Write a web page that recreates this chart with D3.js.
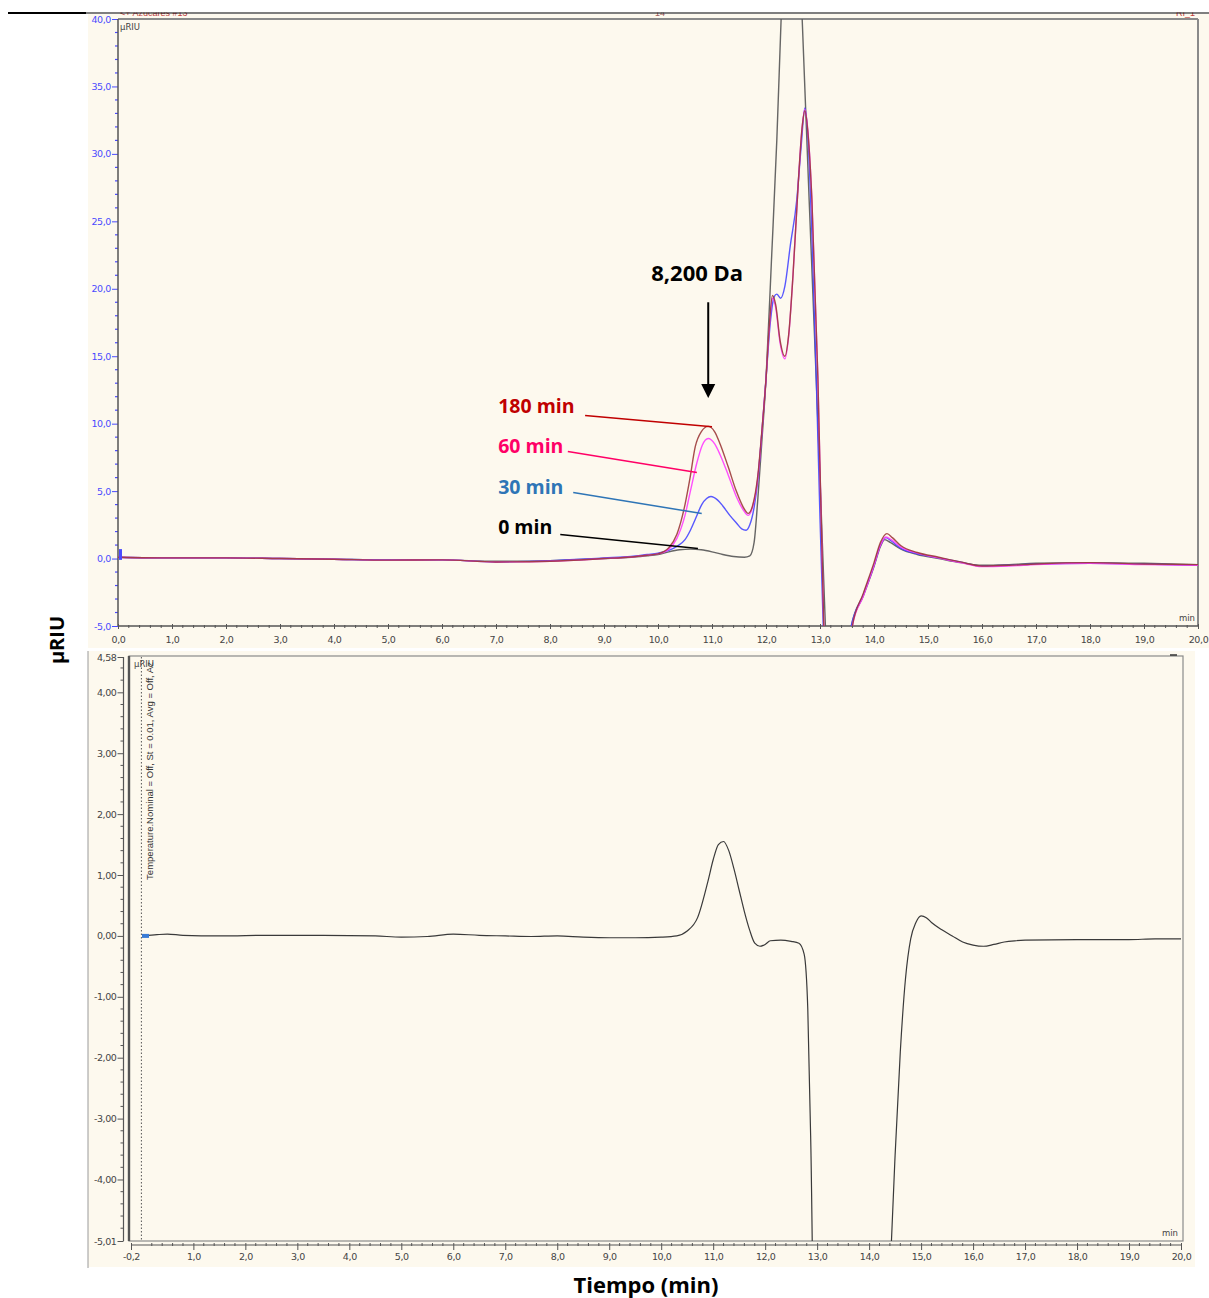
<!DOCTYPE html>
<html>
<head>
<meta charset="utf-8">
<script src="https://cdn.jsdelivr.net/npm/d3@7"></script>
<style>
  body { margin: 0; background: #ffffff; }
  svg { display: block; }
</style>
</head>
<body>
<svg id="chart" width="1209" height="1298"></svg>
<script>
// ---- Upper chromatogram: RI signal (µRIU) vs. retention time (min) ----
const topXTicks = d3.range(0, 20.001, 1);
const topYTicks = [-5, 0, 5, 10, 15, 20, 25, 30, 35, 40];

const trace0min = [
  [0, 0.1], [1, 0.05], [2, 0.05], [3, 0.0], [4, -0.05], [5, -0.1], [6, -0.1], [7, -0.2], [8, -0.15],
  [9, 0.0], [9.5, 0.1], [9.8, 0.2], [10.0, 0.3], [10.2, 0.5], [10.4, 0.65], [10.6, 0.7], [10.8, 0.65],
  [11.0, 0.5], [11.2, 0.3], [11.4, 0.15], [11.6, 0.1], [11.7, 0.2], [11.78, 1.2], [11.85, 4.5],
  [11.92, 8.5], [12.0, 13.3], [12.1, 22], [12.2, 31], [12.28, 40], [12.36, 48], [12.44, 54],
  [12.5, 55], [12.56, 52], [12.62, 45], [12.67, 40], [12.8, 26.5], [12.93, 13.3], [13.0, 6],
  [13.1, -5], [13.2, -14], [13.45, -12], [13.58, -5], [13.8, -2.8], [14.0, -0.6], [14.12, 0.9],
  [14.2, 1.4], [14.3, 1.2], [14.5, 0.7], [14.8, 0.3], [15.2, 0.0], [15.6, -0.3], [16.0, -0.5],
  [16.5, -0.45], [17, -0.35], [18, -0.3], [19, -0.35], [20, -0.45]
];
const trace30min = [
  [0, 0.1], [1, 0.05], [2, 0.05], [3, 0.0], [4, -0.05], [5, -0.1], [6, -0.1], [7, -0.25], [8, -0.15],
  [9, 0.05], [9.5, 0.15], [9.8, 0.3], [10.0, 0.4], [10.2, 0.6], [10.35, 0.9], [10.5, 1.4], [10.6, 2.1],
  [10.7, 3.0], [10.81, 4.0], [10.9, 4.45], [10.98, 4.6], [11.1, 4.35], [11.2, 3.9], [11.33, 3.2],
  [11.46, 2.6], [11.55, 2.2], [11.63, 2.1], [11.7, 2.5], [11.78, 3.8], [11.85, 5.9], [11.92, 9.2],
  [12.0, 13.3], [12.08, 17.5], [12.15, 19.4], [12.2, 19.6], [12.27, 19.3], [12.35, 20.2], [12.45, 23.2],
  [12.57, 26.6], [12.65, 30.5], [12.72, 33.4], [12.78, 31], [12.85, 24], [12.93, 13.5], [13.0, 3],
  [13.06, -5], [13.15, -14], [13.45, -12], [13.58, -5], [13.8, -2.7], [14.0, -0.5], [14.12, 1.0],
  [14.22, 1.55], [14.32, 1.3], [14.5, 0.75], [14.8, 0.35], [15.2, 0.05], [15.6, -0.25], [16.0, -0.55],
  [16.5, -0.5], [17, -0.4], [18, -0.35], [19, -0.4], [20, -0.5]
];
const trace60min = [
  [0, 0.1], [1, 0.05], [2, 0.05], [3, 0.0], [4, -0.05], [5, -0.12], [6, -0.1], [7, -0.25], [8, -0.2],
  [9, 0.0], [9.5, 0.12], [9.8, 0.25], [10.0, 0.35], [10.2, 0.7], [10.35, 1.5], [10.5, 3.2], [10.6, 5.0],
  [10.72, 7.1], [10.82, 8.4], [10.93, 8.9], [11.05, 8.5], [11.15, 7.7], [11.3, 6.2], [11.45, 4.6],
  [11.58, 3.6], [11.67, 3.2], [11.75, 3.8], [11.85, 6.0], [11.92, 9.2], [12.0, 13.3], [12.06, 17],
  [12.12, 19.3], [12.18, 18.6], [12.26, 16], [12.35, 14.8], [12.42, 16.5], [12.5, 21], [12.6, 28],
  [12.67, 32], [12.72, 33.3], [12.78, 31.5], [12.85, 26.6], [12.96, 13.5], [13.07, -5], [13.15, -14],
  [13.45, -12], [13.6, -5], [13.8, -2.8], [14.0, -0.5], [14.12, 1.0], [14.22, 1.6], [14.32, 1.4],
  [14.5, 0.85], [14.8, 0.4], [15.2, 0.05], [15.6, -0.3], [16.0, -0.6], [16.5, -0.55], [17, -0.45],
  [18, -0.35], [19, -0.45], [20, -0.5]
];
const trace180min = [
  [0, 0.1], [1, 0.05], [2, 0.05], [3, 0.0], [4, -0.05], [5, -0.12], [6, -0.1], [7, -0.25], [8, -0.2],
  [9, 0.0], [9.5, 0.12], [9.8, 0.25], [10.0, 0.35], [10.2, 0.8], [10.35, 1.8], [10.5, 4.0], [10.59, 5.9],
  [10.69, 8.3], [10.8, 9.4], [10.93, 9.8], [11.05, 9.4], [11.15, 8.5], [11.3, 6.8], [11.45, 5.0],
  [11.58, 3.8], [11.67, 3.35], [11.75, 3.9], [11.85, 6.2], [11.92, 9.3], [12.0, 13.3], [12.06, 17.2],
  [12.12, 19.5], [12.18, 18.8], [12.26, 16.2], [12.35, 15.0], [12.42, 16.6], [12.5, 21], [12.6, 28],
  [12.67, 32], [12.72, 33.2], [12.78, 31.4], [12.85, 26.6], [12.96, 13.5], [13.07, -5], [13.15, -14],
  [13.45, -12], [13.6, -5], [13.8, -2.6], [14.0, -0.3], [14.12, 1.2], [14.24, 1.85], [14.34, 1.55],
  [14.5, 0.95], [14.8, 0.45], [15.2, 0.1], [15.6, -0.25], [16.0, -0.55], [16.5, -0.5], [17, -0.4],
  [18, -0.3], [19, -0.4], [20, -0.45]
];

const seriesNames = ["0 min", "30 min", "60 min", "180 min"];
const seriesData = [trace0min, trace30min, trace60min, trace180min];
const seriesLine = ["#555555", "#4646ff", "#ff3cff", "#9c3a3a"];

// callout labels (time, signal) for text baseline, leader start and leader end
const calloutNames = ["180 min", "60 min", "30 min", "0 min"];
const calloutColors = ["#c00000", "#ff0066", "#2e75b6", "#000000"];
const calloutText = [[7.04, 10.8], [7.04, 7.8], [7.04, 4.8], [7.04, 1.85]];
const calloutFrom = [[8.65, 10.6], [8.33, 7.93], [8.43, 4.89], [8.19, 1.78]];
const calloutTo = [[11.0, 9.78], [10.72, 6.38], [10.81, 3.34], [10.74, 0.74]];
const markerLabel = "8,200 Da";
const markerTime = 10.93;
const markerSpan = [19.0, 11.9];

// ---- Lower chromatogram: difference trace ----
const botXTicks = [-0.2].concat(d3.range(1, 20.001, 1));
const botYTicks = [-5.01, -4, -3, -2, -1, 0, 1, 2, 3, 4, 4.58];
const traceLower = [
  [0.05, 0.0], [0.3, 0.02], [0.5, 0.03], [0.8, 0.01], [1.5, 0.0], [2.5, 0.01], [3.5, 0.01], [4.5, 0.0],
  [5.0, -0.02], [5.5, -0.01], [6.0, 0.03], [6.5, 0.01], [7.0, 0.0], [7.5, -0.01], [8.0, 0.0],
  [8.5, -0.02], [9.0, -0.03], [9.5, -0.03], [10.0, -0.02], [10.3, 0.0], [10.5, 0.08], [10.7, 0.3],
  [10.9, 0.9], [11.0, 1.25], [11.1, 1.5], [11.2, 1.55], [11.3, 1.4], [11.4, 1.1], [11.5, 0.75],
  [11.6, 0.4], [11.7, 0.1], [11.8, -0.12], [11.9, -0.17], [12.0, -0.14], [12.1, -0.08], [12.3, -0.07],
  [12.5, -0.09], [12.65, -0.12], [12.75, -0.3], [12.82, -1.2], [12.88, -3.5], [12.95, -7],
  [14.35, -7], [14.42, -5.2], [14.5, -3.6], [14.6, -1.9], [14.7, -0.7], [14.8, -0.05], [14.9, 0.22],
  [15.0, 0.33], [15.1, 0.3], [15.2, 0.22], [15.4, 0.1], [15.6, 0.0], [15.8, -0.1], [16.0, -0.15],
  [16.2, -0.17], [16.4, -0.14], [16.6, -0.1], [16.8, -0.08], [17.0, -0.07], [18, -0.06], [19, -0.06],
  [19.5, -0.05], [20.0, -0.05]
];
const lowerNote = "Temperature.Nominal = Off, St = 0.01, Avg = Off, Az";

const svg = d3.select("#chart");
const comma = (v, n) => v.toFixed(n).replace(".", ",");
const cream = "#fdf9ee";
const tickFont = "DejaVu Sans, sans-serif";
const titleFont = "Open Sans, sans-serif";

// ================= upper panel =================
const xTop = d3.scaleLinear().domain([0, 20]).range([118, 1198]);
const yTop = d3.scaleLinear().domain([-5, 40]).range([626, 19]);

svg.append("rect").attr("x", 88).attr("y", 14).attr("width", 1121).attr("height", 634).attr("fill", cream);

// software header strip (mostly hidden under the page rule)
const hdr = svg.append("g").attr("font-family", "Liberation Sans, Arial, sans-serif").attr("font-size", 9);
hdr.append("text").attr("x", 120).attr("y", 16).attr("fill", "#c04040").text("<+ Azúcares #13");
hdr.append("text").attr("x", 655).attr("y", 16).attr("fill", "#a06060").text("14");
hdr.append("text").attr("x", 1176).attr("y", 16).attr("fill", "#c04040").text("RI_1");
svg.append("rect").attr("x", 0).attr("y", 0).attr("width", 1209).attr("height", 12.5).attr("fill", "#ffffff");
svg.append("line").attr("x1", 8).attr("x2", 86).attr("y1", 13).attr("y2", 13).attr("stroke", "#000").attr("stroke-width", 2);
svg.append("line").attr("x1", 86).attr("x2", 1209).attr("y1", 13).attr("y2", 13).attr("stroke", "#000").attr("stroke-width", 1.2);

// frame
svg.append("line").attr("x1", xTop(0)).attr("x2", xTop(20)).attr("y1", yTop(40)).attr("y2", yTop(40))
  .attr("stroke", "#8a8a8a").attr("stroke-width", 2);
svg.append("line").attr("x1", xTop(20)).attr("x2", xTop(20)).attr("y1", yTop(40)).attr("y2", yTop(-5))
  .attr("stroke", "#8a8a8a").attr("stroke-width", 2);

// y axis (blue ticks)
const gyTop = svg.append("g").attr("transform", `translate(${xTop(0)},0)`)
  .call(d3.axisLeft(yTop).tickValues(topYTicks).tickSize(6).tickPadding(1).tickFormat(d => comma(d, 1)));
gyTop.select(".domain").remove();
gyTop.selectAll(".tick line").attr("stroke", "#4a4aff");
gyTop.selectAll(".tick text").attr("fill", "#4a4aff").attr("font-family", tickFont)
  .attr("font-size", 9.5).attr("letter-spacing", "-0.4");
svg.append("g").selectAll("line").data(d3.range(-5, 40.001, 1).filter(v => v % 5 !== 0)).join("line")
  .attr("x1", xTop(0) - 3).attr("x2", xTop(0)).attr("y1", d => yTop(d)).attr("y2", d => yTop(d))
  .attr("stroke", "#4a4aff").attr("stroke-width", 1.2);
svg.append("line").attr("x1", xTop(0)).attr("x2", xTop(0)).attr("y1", yTop(40)).attr("y2", yTop(-5))
  .attr("stroke", "#555").attr("stroke-width", 1.5);

// x axis
const gxTop = svg.append("g").attr("transform", `translate(0,${yTop(-5)})`)
  .call(d3.axisBottom(xTop).tickValues(topXTicks).tickSize(3).tickPadding(7).tickFormat(d => comma(d, 1)));
gxTop.select(".domain").remove();
gxTop.selectAll(".tick line").attr("stroke", "#555").attr("y1", -2);
gxTop.selectAll(".tick text").attr("fill", "#444").attr("font-family", tickFont)
  .attr("font-size", 9.5).attr("letter-spacing", "-0.4");
svg.append("g").selectAll("line").data(d3.range(0, 20.001, 0.2).filter(v => Math.abs(v - Math.round(v)) > 0.01)).join("line")
  .attr("x1", d => xTop(d)).attr("x2", d => xTop(d)).attr("y1", yTop(-5) - 1).attr("y2", yTop(-5) + 2)
  .attr("stroke", "#555").attr("stroke-width", 1);
svg.append("line").attr("x1", xTop(0)).attr("x2", xTop(20)).attr("y1", yTop(-5)).attr("y2", yTop(-5))
  .attr("stroke", "#555").attr("stroke-width", 1.5);

svg.append("text").attr("x", xTop(0) + 2).attr("y", yTop(40) + 11).attr("font-family", tickFont)
  .attr("font-size", 8.5).attr("fill", "#444").text("µRIU");
svg.append("text").attr("x", xTop(20) - 3).attr("y", yTop(-5) - 5).attr("text-anchor", "end")
  .attr("font-family", tickFont).attr("font-size", 8.5).attr("fill", "#444").text("min");

// traces
svg.append("clipPath").attr("id", "clipTop").append("rect")
  .attr("x", xTop(0)).attr("y", yTop(40)).attr("width", xTop(20) - xTop(0)).attr("height", yTop(-5) - yTop(40));
const lineTop = d3.line().x(d => xTop(d[0])).y(d => yTop(d[1])).curve(d3.curveMonotoneX);
svg.append("g").attr("clip-path", "url(#clipTop)").selectAll("path").data(seriesData).join("path")
  .attr("d", lineTop).attr("fill", "none")
  .attr("stroke", (d, i) => seriesLine[i]).attr("stroke-width", 1.4).attr("stroke-opacity", 0.9)
  .attr("stroke-linejoin", "round");
svg.append("rect").attr("x", xTop(0) + 1).attr("y", yTop(0.7)).attr("width", 3).attr("height", yTop(-0.1) - yTop(0.7))
  .attr("fill", "#4a4aff");

// callouts
const ann = svg.append("g").attr("font-family", titleFont).attr("font-weight", 700);
ann.selectAll("line").data(calloutNames).join("line")
  .attr("x1", (d, i) => xTop(calloutFrom[i][0])).attr("y1", (d, i) => yTop(calloutFrom[i][1]))
  .attr("x2", (d, i) => xTop(calloutTo[i][0])).attr("y2", (d, i) => yTop(calloutTo[i][1]))
  .attr("stroke", (d, i) => calloutColors[i]).attr("stroke-width", 1.5);
ann.selectAll("text.callout").data(calloutNames).join("text").attr("class", "callout")
  .attr("x", (d, i) => xTop(calloutText[i][0])).attr("y", (d, i) => yTop(calloutText[i][1]))
  .attr("font-size", 19.5).attr("fill", (d, i) => calloutColors[i]).text(d => d);
ann.append("text").attr("x", xTop(markerTime) - 11).attr("y", yTop(20.6)).attr("text-anchor", "middle")
  .attr("font-size", 22).attr("fill", "#000").text(markerLabel);
const ax = xTop(markerTime), ay0 = yTop(markerSpan[0]), ay1 = yTop(markerSpan[1]);
ann.append("line").attr("x1", ax).attr("x2", ax).attr("y1", ay0).attr("y2", ay1 - 13)
  .attr("stroke", "#000").attr("stroke-width", 2);
ann.append("path").attr("d", `M${ax - 7},${ay1 - 14}L${ax + 7},${ay1 - 14}L${ax},${ay1}Z`).attr("fill", "#000");

// ================= lower panel =================
const xBot = d3.scaleLinear().domain([-0.2, 20]).range([131, 1181]);
const yBot = d3.scaleLinear().domain([-5.01, 4.58]).range([1241, 657]);

svg.append("rect").attr("x", 88).attr("y", 651).attr("width", 1107).attr("height", 616).attr("fill", cream);
svg.append("line").attr("x1", 88).attr("x2", 88).attr("y1", 651).attr("y2", 1268).attr("stroke", "#9a9a9a").attr("stroke-width", 1);

// frame
svg.append("rect").attr("x", 129).attr("y", yBot(4.58) - 1).attr("width", 1183 - 129).attr("height", yBot(-5.01) - yBot(4.58) + 1)
  .attr("fill", "none").attr("stroke", "#8a8a8a").attr("stroke-width", 1.2);
svg.append("line").attr("x1", 129).attr("x2", 129).attr("y1", yBot(4.58) - 1).attr("y2", yBot(-5.01))
  .attr("stroke", "#555").attr("stroke-width", 2.4);
svg.append("line").attr("x1", 1170).attr("x2", 1177).attr("y1", 655).attr("y2", 655).attr("stroke", "#333").attr("stroke-width", 1.5);

// y axis
const yAxisX = 123.5;
const gyBot = svg.append("g").attr("transform", `translate(${yAxisX},0)`)
  .call(d3.axisLeft(yBot).tickValues(botYTicks).tickSize(6).tickPadding(1).tickFormat(d => comma(d, 2)));
gyBot.select(".domain").remove();
gyBot.selectAll(".tick line").attr("stroke", "#555");
gyBot.selectAll(".tick text").attr("fill", "#444").attr("font-family", tickFont)
  .attr("font-size", 9.5).attr("letter-spacing", "-0.4");
svg.append("g").selectAll("line").data(d3.range(-5, 4.58, 0.2).filter(v => Math.abs(v - Math.round(v)) > 0.01)).join("line")
  .attr("x1", yAxisX - 3).attr("x2", yAxisX).attr("y1", d => yBot(d)).attr("y2", d => yBot(d))
  .attr("stroke", "#555").attr("stroke-width", 1);
svg.append("line").attr("x1", yAxisX).attr("x2", yAxisX).attr("y1", yBot(4.58)).attr("y2", yBot(-5.01))
  .attr("stroke", "#555").attr("stroke-width", 1.2);

// x axis
const xAxisY = 1245;
const gxBot = svg.append("g").attr("transform", `translate(0,${xAxisY})`)
  .call(d3.axisBottom(xBot).tickValues(botXTicks).tickSize(5).tickPadding(3).tickFormat(d => comma(d, 1)));
gxBot.select(".domain").remove();
gxBot.selectAll(".tick line").attr("stroke", "#555").attr("y1", -2);
gxBot.selectAll(".tick text").attr("fill", "#444").attr("font-family", tickFont)
  .attr("font-size", 9.5).attr("letter-spacing", "-0.4");
svg.append("g").selectAll("line").data(d3.range(0, 20.001, 0.2).filter(v => Math.abs(v - Math.round(v)) > 0.01)).join("line")
  .attr("x1", d => xBot(d)).attr("x2", d => xBot(d)).attr("y1", xAxisY - 2).attr("y2", xAxisY + 1)
  .attr("stroke", "#555").attr("stroke-width", 1);
svg.append("line").attr("x1", xBot(-0.2)).attr("x2", xBot(20)).attr("y1", xAxisY).attr("y2", xAxisY)
  .attr("stroke", "#555").attr("stroke-width", 1.2);

// clipped plot content
svg.append("clipPath").attr("id", "clipBot").append("rect")
  .attr("x", 131).attr("y", yBot(4.58)).attr("width", 1182 - 131).attr("height", yBot(-5.01) - yBot(4.58));
const plotBot = svg.append("g").attr("clip-path", "url(#clipBot)");
plotBot.append("line").attr("x1", xBot(0)).attr("x2", xBot(0)).attr("y1", yBot(4.58)).attr("y2", yBot(-5.01))
  .attr("stroke", "#555").attr("stroke-width", 1).attr("stroke-dasharray", "1.5,2");
plotBot.append("text").attr("transform", `translate(${xBot(0) + 12},${yBot(0.92)}) rotate(-90)`)
  .attr("font-family", "Liberation Sans, Arial, sans-serif").attr("font-size", 9.5).attr("fill", "#333")
  .text(lowerNote);
plotBot.append("text").attr("x", 134).attr("y", yBot(4.58) + 10).attr("font-family", tickFont)
  .attr("font-size", 8.5).attr("fill", "#444").text("µRIU");
const lineBot = d3.line().x(d => xBot(d[0])).y(d => yBot(d[1])).curve(d3.curveMonotoneX);
plotBot.append("path").datum(traceLower).attr("d", lineBot).attr("fill", "none")
  .attr("stroke", "#3a3a3a").attr("stroke-width", 1.2);
plotBot.append("rect").attr("x", xBot(traceLower[0][0]) - 2).attr("y", yBot(0) - 2).attr("width", 7).attr("height", 4)
  .attr("fill", "#3a7bd5");
svg.append("text").attr("x", 1178).attr("y", 1236).attr("text-anchor", "end")
  .attr("font-family", tickFont).attr("font-size", 8.5).attr("fill", "#444").text("min");

// ================= shared axis titles =================
svg.append("text").attr("transform", "translate(64,640) rotate(-90)").attr("text-anchor", "middle")
  .attr("font-family", titleFont).attr("font-weight", 700).attr("font-size", 20).attr("fill", "#000").text("µRIU");
svg.append("text").attr("x", 646).attr("y", 1293).attr("text-anchor", "middle")
  .attr("font-family", titleFont).attr("font-weight", 700).attr("font-size", 22).attr("fill", "#000").text("Tiempo (min)");
</script>
</body>
</html>
